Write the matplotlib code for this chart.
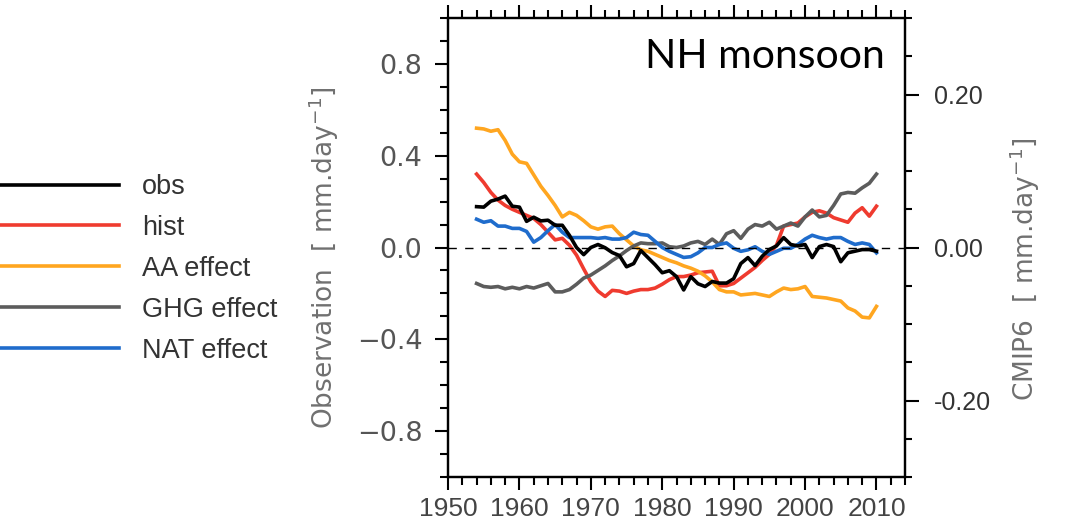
import matplotlib

matplotlib.use("Agg")
import matplotlib.pyplot as plt
from matplotlib.ticker import FuncFormatter, MultipleLocator

# years of the running series
years = list(range(1954, 2011))

# observation, left axis (mm/day)
obs = [0.178, 0.176, 0.202, 0.211, 0.224, 0.180, 0.176, 0.114, 0.132, 0.116,
       0.119, 0.097, 0.097, 0.053, 0.000, -0.031, 0.000, 0.013, -0.001, -0.022,
       -0.035, -0.084, -0.070, -0.013, -0.044, -0.075, -0.110, -0.101, -0.127, -0.185,
       -0.127, -0.158, -0.170, -0.148, -0.155, -0.155, -0.136, -0.070, -0.044, -0.079,
       -0.038, -0.009, 0.007, 0.043, 0.013, 0.007, 0.013, -0.044, 0.004, 0.013,
       0.004, -0.062, -0.023, -0.016, -0.009, -0.009, -0.016]

# CMIP6 experiments, right axis (mm/day)
hist = [0.096, 0.085, 0.072, 0.062, 0.055, 0.050, 0.046, 0.042, 0.038, 0.030,
        0.020, 0.010, 0.012, 0.003, -0.010, -0.028, -0.045, -0.057, -0.064, -0.056,
        -0.057, -0.060, -0.057, -0.055, -0.055, -0.053, -0.048, -0.042, -0.038, -0.038,
        -0.036, -0.033, -0.032, -0.031, -0.050, -0.050, -0.047, -0.040, -0.033, -0.026,
        -0.017, -0.009, 0.003, 0.028, 0.030, 0.032, 0.040, 0.046, 0.048, 0.045,
        0.039, 0.036, 0.033, 0.045, 0.052, 0.041, 0.054]
aa = [0.156, 0.155, 0.152, 0.154, 0.140, 0.122, 0.112, 0.110, 0.095, 0.080,
      0.068, 0.055, 0.040, 0.046, 0.042, 0.035, 0.027, 0.024, 0.027, 0.028,
      0.018, 0.010, 0.002, -0.003, -0.005, -0.009, -0.013, -0.017, -0.020, -0.024,
      -0.027, -0.031, -0.037, -0.045, -0.055, -0.058, -0.058, -0.062, -0.061, -0.060,
      -0.062, -0.064, -0.058, -0.053, -0.055, -0.054, -0.051, -0.064, -0.065, -0.066,
      -0.068, -0.070, -0.079, -0.083, -0.091, -0.092, -0.077]
ghg = [-0.047, -0.051, -0.052, -0.051, -0.054, -0.052, -0.054, -0.051, -0.053, -0.050,
       -0.047, -0.058, -0.058, -0.055, -0.048, -0.040, -0.036, -0.030, -0.024, -0.017,
       -0.011, -0.004, 0.002, 0.006, 0.005, 0.005, 0.006, 0.001, 0.000, 0.002,
       0.006, 0.008, 0.004, 0.011, 0.004, 0.018, 0.022, 0.012, 0.024, 0.030,
       0.028, 0.033, 0.024, 0.028, 0.032, 0.028, 0.040, 0.049, 0.040, 0.042,
       0.055, 0.070, 0.072, 0.071, 0.078, 0.084, 0.096]
nat = [0.037, 0.033, 0.035, 0.028, 0.028, 0.025, 0.025, 0.021, 0.007, 0.013,
       0.022, 0.030, 0.020, 0.013, 0.013, 0.013, 0.013, 0.012, 0.013, 0.011,
       0.011, 0.013, 0.020, 0.017, 0.016, 0.008, 0.000, -0.005, -0.009, -0.013,
       -0.012, -0.007, 0.000, 0.000, 0.004, 0.006, -0.001, -0.005, -0.003, 0.001,
       -0.005, -0.009, -0.005, -0.001, -0.001, 0.004, 0.011, 0.016, 0.013, 0.011,
       0.013, 0.013, 0.008, 0.004, 0.006, 0.004, -0.007]

labels = ["obs", "hist", "AA effect", "GHG effect", "NAT effect"]
colors = ["#000000", "#ef3b2f", "#ffa620", "#5c5c5c", "#1f6ccc"]

helv = "Liberation Sans"
wide = "DejaVu Sans"
lw = 2.6

fig = plt.figure(figsize=(10.67, 5.24), dpi=100)
ax = fig.add_axes([0.4199, 0.0897, 0.4283, 0.8759])
ax2 = ax.twinx()

h_obs, = ax.plot(years, obs, color=colors[0], lw=lw, zorder=3)
handles = [h_obs]
for vals, c in zip([hist, aa, ghg, nat], colors[1:]):
    h, = ax2.plot(years, vals, color=c, lw=lw)
    handles.append(h)

ax.axhline(0.0, color="black", lw=1.0, ls=(0, (6, 6)), zorder=1)

ax.set_xlim(1950, 2014)
ax.set_ylim(-1.0, 1.0)
ax2.set_ylim(-0.3, 0.3)
ax.set_zorder(ax2.get_zorder() + 1)
ax.patch.set_visible(False)

ax.xaxis.set_major_locator(MultipleLocator(10))
ax.xaxis.set_minor_locator(MultipleLocator(2))
ax.yaxis.set_major_locator(MultipleLocator(0.4))
ax.yaxis.set_minor_locator(MultipleLocator(0.1))
ax2.yaxis.set_major_locator(MultipleLocator(0.2))
ax2.yaxis.set_minor_locator(MultipleLocator(0.05))


def left_fmt(v, _):
    s = f"{v + 0.0:.1f}"
    if s == "-0.0":
        s = "0.0"
    return s.replace("-", "\u2212")


def right_fmt(v, _):
    s = f"{v:.2f}"
    if s == "-0.00":
        s = "0.00"
    return s


ax.yaxis.set_major_formatter(FuncFormatter(left_fmt))
ax2.yaxis.set_major_formatter(FuncFormatter(right_fmt))

for a in (ax, ax2):
    for sp in a.spines.values():
        sp.set_linewidth(1.6)

ax.tick_params(axis="x", which="both", top=True, direction="out", width=1.5)
ax.tick_params(axis="x", which="major", length=9.5, labelsize=19, labelcolor="#444444",
               pad=5, labelfontfamily=helv)
ax.tick_params(axis="x", which="minor", length=5.5)
ax.tick_params(axis="y", which="both", direction="out", width=1.5)
ax.tick_params(axis="y", which="major", length=9.5, labelsize=19.5, labelcolor="#555555",
               pad=9, labelfontfamily=wide)
ax.tick_params(axis="y", which="minor", length=5.5)
ax2.tick_params(axis="y", which="both", direction="out", width=1.5)
ax2.tick_params(axis="y", which="major", length=10, labelsize=18, labelcolor="#333333",
                pad=11, labelfontfamily=helv)
ax2.tick_params(axis="y", which="minor", length=5)

ax.set_ylabel("Observation  [ mm.day$^{-1}$]", fontsize=19, color="#707070", family=wide)
ax.yaxis.set_label_coords(-0.234, 0.478)
ax2.set_ylabel("CMIP6  [ mm.day$^{-1}$]", fontsize=19, color="#707070", family=wide,
               rotation=90)
ax2.yaxis.set_label_coords(1.224, 0.453)

ax.text(0.956, 0.891, "NH monsoon", transform=ax.transAxes, ha="right", va="baseline",
        fontsize=29.5, family="Lato", color="black")

fig.legend(handles, labels, loc="center left", bbox_to_anchor=(-0.003, 0.487),
           bbox_transform=fig.transFigure, frameon=False, borderpad=0, borderaxespad=0,
           handlelength=4.5, handletextpad=0.85, labelspacing=0.55,
           prop={"family": helv, "size": 19.5}, labelcolor="#333333")

fig.savefig("out.png", dpi=100)
